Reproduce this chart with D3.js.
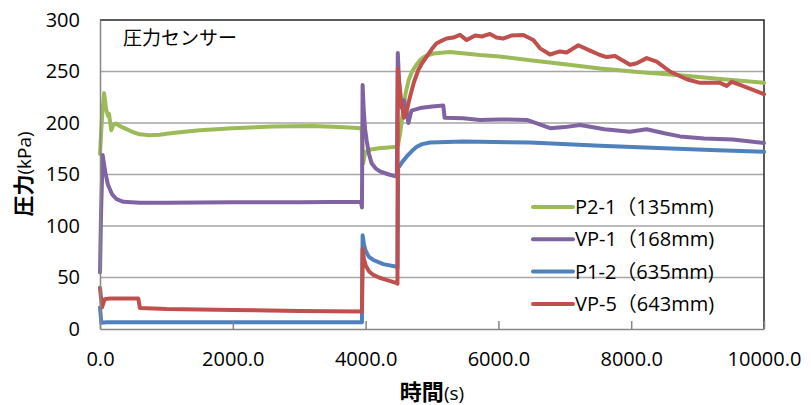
<!DOCTYPE html>
<html>
<head>
<meta charset="utf-8">
<script src="https://cdn.jsdelivr.net/npm/d3@7"></script>
<style>
  body { margin: 0; background: #fff; }
  svg { display: block; }
  text { font-family: "Open Sans", "Noto Sans CJK JP", sans-serif; fill: #000; }
</style>
</head>
<body>
<svg id="chart" width="811" height="405"></svg>
<script>
// time (s) / pressure (kPa) pairs
var p21 = [[0,170],[30,205],[62,229],[90,214],[120,207],[135,209],[170,193],[200,198],[240,199.5],[300,197],
  [400,194],[500,191],[600,189],[750,188],[900,188.5],[1000,189.5],[1200,191],[1500,193],[2000,195],[2600,196.5],
  [3200,197],[3600,196],[3940,195],[3965,161],[3990,171],[4050,174],[4200,175.5],[4470,177],[4490,179],[4520,190],
  [4560,210],[4600,228],[4650,242],[4700,250],[4760,256],[4820,261],[4900,265],[5020,267.5],[5270,269],[5720,266],
  [6020,264.5],[6480,261],[7000,257],[7530,253],[8100,249.5],[8690,246.5],[9300,243],[10000,239]];

var vp1 = [[0,55],[15,110],[40,169],[80,152],[120,140],[180,131],[250,126],[350,123.5],[600,122.5],[1000,122.5],
  [2000,123],[3000,123],[3930,123.5],[3945,118],[3955,237],[3970,215],[3990,195],[4016,183],[4050,170],[4090,161],
  [4150,156],[4217,153],[4350,150],[4470,148],[4485,268],[4510,230],[4540,215],[4580,222],[4620,210],[4645,200],
  [4690,212],[4820,214.5],[5000,216],[5170,217],[5190,205],[5470,204.5],[5720,203],[6020,203.5],[6430,203],
  [6780,195],[7000,196],[7230,198],[7600,194],[7980,191.5],[8230,194],[8500,190],[8735,187],[9100,185],[9530,184],
  [10000,180.5]];

var p12 = [[0,21],[20,6],[100,6.5],[2000,6.5],[3945,6.5],[3955,91],[3975,82],[4000,76],[4050,70],[4116,67],
  [4267,63],[4470,60.5],[4480,59],[4490,159],[4510,158],[4550,162],[4620,167.5],[4700,173],[4770,177],[4850,179.5],
  [4970,181],[5470,182],[6480,181],[7530,178],[8500,175.5],[9300,173.5],[10000,172]];

var vp5 = [[0,40],[30,21],[70,29],[150,29.5],[577,29.5],[600,20.5],[1000,19.5],[2000,18.5],[3000,17.5],[3945,17],
  [3955,78],[3975,68],[4000,62],[4050,56],[4116,52.5],[4200,50],[4300,48],[4470,44.5],[4480,44],[4485,253],
  [4530,225],[4578,205],[4620,212],[4669,225.5],[4730,240],[4794,251.5],[4850,258],[4920,264.5],[5000,272],
  [5070,277.5],[5150,280],[5220,282],[5320,283],[5422,285.5],[5522,280.5],[5650,285],[5750,284],[5873,286.5],
  [5970,283],[6069,282],[6200,285],[6375,285.5],[6526,280.5],[6627,272.5],[6777,266.5],[6928,269.5],[7028,268.5],
  [7204,275.5],[7354,271],[7530,266],[7630,264],[7756,265],[7982,256.5],[8083,258],[8233,263],[8384,259.5],
  [8584,250],[8835,242.5],[9036,239],[9337,239],[9438,236],[9513,240],[9639,237],[10000,228]];

var seriesNames = ["P2-1（135mm)", "VP-1（168mm)", "P1-2（635mm)", "VP-5（643mm)"];
var seriesColors = ["#9bbb59", "#8064a2", "#4f81bd", "#c0504d"];
var xTicks = [0, 2000, 4000, 6000, 8000, 10000];
var yTicks = [0, 50, 100, 150, 200, 250, 300];

var svg = d3.select("#chart");
var plotL = 100, plotR = 764, plotT = 20, plotB = 329;

var x = d3.scaleLinear().domain([0, 10000]).range([plotL, plotR]);
var y = d3.scaleLinear().domain([0, 300]).range([plotB, plotT]);

// gridlines
svg.append("g").selectAll("line").data(yTicks.slice(1, -1)).enter()
  .append("line")
  .attr("x1", plotL).attr("x2", plotR)
  .attr("y1", d => y(d)).attr("y2", d => y(d))
  .attr("stroke", "#a6a6a6").attr("stroke-width", 1.5);

// plot frame (top / right)
svg.append("path")
  .attr("d", "M" + plotL + "," + plotT + "H" + plotR + "V" + plotB)
  .attr("fill", "none").attr("stroke", "#262626").attr("stroke-width", 1.5);

// lines
var line = d3.line().x(d => x(d[0])).y(d => y(d[1]));
var allSeries = [p21, vp1, p12, vp5];
svg.append("g").selectAll("path").data(allSeries).enter()
  .append("path")
  .attr("d", line)
  .attr("fill", "none")
  .attr("stroke", (d, i) => seriesColors[i])
  .attr("stroke-width", 4)
  .attr("stroke-linejoin", "round")
  .attr("stroke-linecap", "round");

// x axis
var xAxis = svg.append("g")
  .attr("transform", "translate(0," + plotB + ")")
  .call(d3.axisBottom(x).tickValues(xTicks).tickFormat(d3.format(".1f")).tickSizeInner(-8).tickSizeOuter(0).tickPadding(23));
xAxis.select(".domain").attr("stroke", "#868686").attr("stroke-width", 1.5);
xAxis.selectAll(".tick line").attr("stroke", "#868686").attr("stroke-width", 1.5);
xAxis.selectAll("text").attr("font-size", 20).attr("font-family", "Open Sans");

// y axis
var yAxis = svg.append("g")
  .attr("transform", "translate(" + plotL + ",0)")
  .call(d3.axisLeft(y).tickValues(yTicks).tickSize(0).tickPadding(20));
yAxis.select(".domain").attr("stroke", "#868686").attr("stroke-width", 1.5);
yAxis.selectAll("text").attr("font-size", 20).attr("font-family", "Open Sans");

// title in plot
svg.append("text").attr("x", 123).attr("y", 45)
  .attr("font-size", 19).attr("font-family", "Noto Sans CJK JP")
  .text("圧力センサー");

// axis titles
var yt = svg.append("text")
  .attr("transform", "translate(31," + 174 + ") rotate(-90)")
  .attr("text-anchor", "middle").attr("font-size", 21);
yt.append("tspan").attr("font-family", "Noto Sans CJK JP").attr("font-weight", 700).text("圧力");
yt.append("tspan").attr("font-family", "Open Sans").attr("font-size", 19).text("(kPa)");

var xt = svg.append("text")
  .attr("x", 432).attr("y", 400)
  .attr("text-anchor", "middle").attr("font-size", 22);
xt.append("tspan").attr("font-family", "Noto Sans CJK JP").attr("font-weight", 700).text("時間");
xt.append("tspan").attr("font-family", "Open Sans").attr("font-size", 19).text("(s)");

// legend
var legend = svg.append("g").selectAll("g").data(seriesNames).enter()
  .append("g")
  .attr("transform", (d, i) => "translate(533," + (207 + i * 32.3) + ")");
legend.append("line")
  .attr("x1", 0).attr("x2", 40)
  .attr("stroke", (d, i) => seriesColors[i])
  .attr("stroke-width", 4).attr("stroke-linecap", "round");
legend.append("text")
  .attr("x", 42).attr("y", 7)
  .attr("font-size", 20)
  .text(d => d);
</script>
</body>
</html>
